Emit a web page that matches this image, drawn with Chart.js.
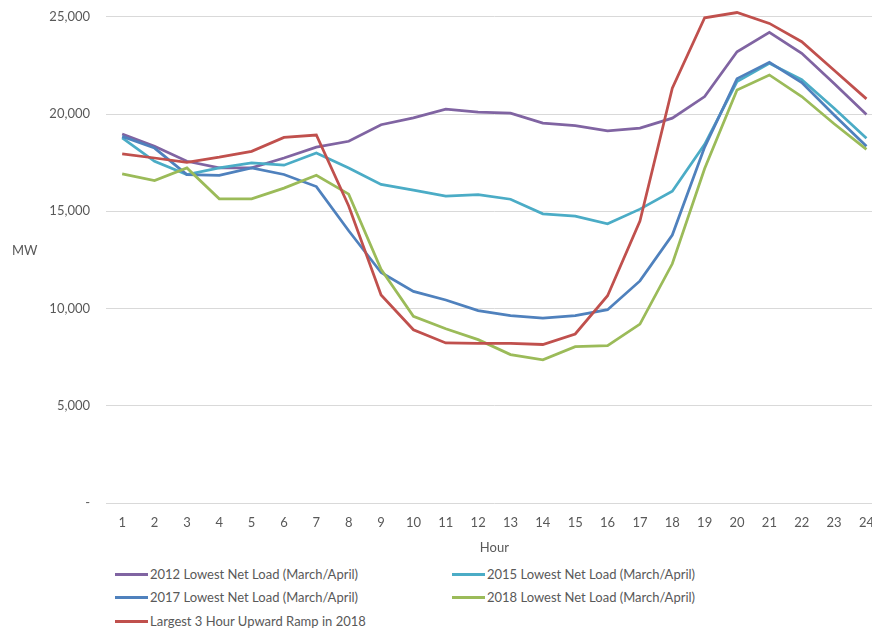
<!DOCTYPE html>
<html>
<head>
<meta charset="utf-8">
<script src="https://cdn.jsdelivr.net/npm/chart.js@4.4.1/dist/chart.umd.min.js"></script>
<style>
  html, body { margin: 0; padding: 0; background: #fff; overflow: hidden; width: 872px; height: 629px; }
  #wrap { position: absolute; left: 0; top: -7px; width: 886px; height: 567px; }
  .lbl { position: absolute; font-family: Lato, "Open Sans", sans-serif; font-size: 13px; color: #595959; white-space: nowrap; line-height: 16px; }
  .leg { position: absolute; font-family: Lato, "Open Sans", sans-serif; font-size: 13px; color: #595959; white-space: nowrap; line-height: 16px; }
  .leg span.sw { position: absolute; left: 0; top: 7px; width: 33px; height: 3px; }
  .leg span.tx { position: absolute; left: 35px; top: 0; }
</style>
</head>
<body>
<div id="wrap"><canvas id="c" width="886" height="567"></canvas></div>
<div class="lbl" style="left:12px; top:242px;">MW</div>
<div id="legend"></div>
<script>
const hours = ["1","2","3","4","5","6","7","8","9","10","11","12","13","14","15","16","17","18","19","20","21","22","23","24"];
const seriesNames = [
  "2012 Lowest Net Load (March/April)",
  "2015 Lowest Net Load (March/April)",
  "2017 Lowest Net Load (March/April)",
  "2018 Lowest Net Load (March/April)",
  "Largest 3 Hour Upward Ramp in 2018"
];
const seriesColors = ["#8064A2", "#4BACC6", "#4F81BD", "#9BBB59", "#C0504D"];
const load2012 = [18970, 18340, 17570, 17230, 17230, 17740, 18300, 18600, 19450, 19800, 20250, 20100, 20050, 19530, 19400, 19140, 19280, 19790, 20900, 23200, 24200, 23120, 21570, 19980];
const load2015 = [18770, 17570, 16890, 17230, 17490, 17370, 18000, 17230, 16380, 16090, 15780, 15860, 15620, 14870, 14750, 14360, 15110, 16030, 18440, 21670, 22610, 21770, 20300, 18750];
const load2017 = [18850, 18250, 16890, 16850, 17230, 16890, 16270, 14000, 11850, 10880, 10440, 9890, 9630, 9510, 9630, 9940, 11420, 13780, 18300, 21820, 22660, 21620, 19950, 18340];
const load2018 = [16920, 16580, 17230, 15640, 15640, 16190, 16850, 15880, 12020, 9600, 8960, 8400, 7630, 7360, 8040, 8090, 9200, 12300, 17200, 21240, 22010, 20900, 19500, 18180];
const ramp2018 = [17950, 17740, 17520, 17780, 18080, 18800, 18920, 15270, 10700, 8910, 8230, 8210, 8210, 8150, 8690, 10660, 14500, 21330, 24950, 25220, 24660, 23720, 22250, 20780];
const yTicks = [0, 5000, 10000, 15000, 20000, 25000];

const allSeries = [load2012, load2015, load2017, load2018, ramp2018];
const datasets = allSeries.map((d, i) => ({
  label: seriesNames[i],
  data: d,
  borderColor: seriesColors[i],
  backgroundColor: seriesColors[i],
  borderWidth: 2.75,
  pointRadius: 0,
  tension: 0,
  fill: false,
  clip: false,
  order: 4 - i
}));

const font = { family: "Lato, 'Open Sans', sans-serif", size: 13 };
new Chart(document.getElementById('c'), {
  type: 'line',
  data: { labels: hours, datasets },
  options: {
    responsive: false,
    animation: false,
    layout: { padding: { top: 8, left: 0, right: 0, bottom: 0 } },
    plugins: { legend: { display: false }, tooltip: { enabled: false } },
    scales: {
      x: {
        offset: true,
        grid: { display: false, drawTicks: false },
        border: { display: false },
        ticks: { color: '#595959', font, padding: 12, maxRotation: 0, autoSkip: false },
        title: { display: true, text: 'Hour', color: '#595959', font, padding: { top: 8 } },
        afterFit: s => { s.height = 57; }
      },
      y: {
        min: 0, max: 25000,
        afterBuildTicks: s => { s.ticks = yTicks.map(v => ({ value: v })); },
        grid: { color: '#D9D9D9', lineWidth: 1, drawTicks: false },
        border: { display: false },
        ticks: {
          color: '#595959', font, padding: 16,
          callback: v => v === 0 ? '-' : v.toLocaleString('en-US')
        },
        afterFit: s => { s.width = 106; }
      }
    }
  }
});

// HTML legend (two columns)
const legPos = [[115, 566], [452, 566], [115, 589], [452, 589], [115, 613]];
const legEl = document.getElementById('legend');
seriesNames.forEach((n, i) => {
  const d = document.createElement('div');
  d.className = 'leg';
  d.style.left = legPos[i][0] + 'px';
  d.style.top = legPos[i][1] + 'px';
  d.innerHTML = '<span class="sw" style="background:' + seriesColors[i] + '"></span><span class="tx"></span>';
  d.querySelector('.tx').textContent = n;
  legEl.appendChild(d);
});
</script>
</body>
</html>
